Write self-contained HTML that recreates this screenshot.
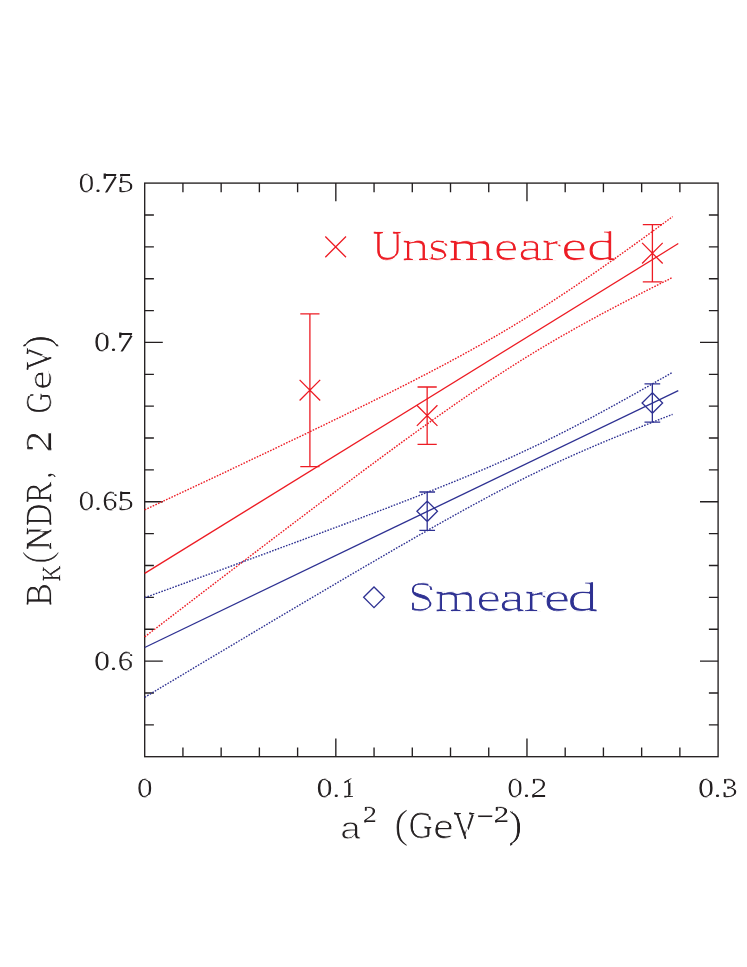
<!DOCTYPE html>
<html lang="en">
<head>
<meta charset="utf-8">
<title>B_K continuum extrapolation</title>
<style>
html,body{margin:0;padding:0;background:#ffffff;}
body{width:747px;height:967px;overflow:hidden;font-family:"Liberation Sans",sans-serif;}
svg{display:block;will-change:transform;}
text{white-space:pre;}
</style>
</head>
<body>
<svg width="747" height="967" viewBox="0 0 747 967" role="img" aria-label="B_K versus a squared: unsmeared and smeared data with linear fits">
<defs>
<clipPath id="c0"><text transform="translate(-1.30,0) scale(1.2212,1)" x="64.82" y="191.60" font-family="Liberation Serif" font-size="26.6">0</text></clipPath>
<clipPath id="c2"><text transform="translate(-1.30,0) scale(1.2857,1)" x="79.37" y="191.60" font-family="Liberation Serif" font-size="26.6">7</text></clipPath>
<clipPath id="c3"><text transform="translate(-1.30,0) scale(1.2950,1)" x="91.03" y="191.60" font-family="Liberation Serif" font-size="26.6">5</text></clipPath>
<clipPath id="c4"><text transform="translate(-1.30,0) scale(1.2151,1)" x="78.07" y="350.93" font-family="Liberation Serif" font-size="26.6">0</text></clipPath>
<clipPath id="c6"><text transform="translate(-1.30,0) scale(1.3115,1)" x="89.63" y="350.93" font-family="Liberation Serif" font-size="26.6">7</text></clipPath>
<clipPath id="c7"><text transform="translate(-1.30,0) scale(1.2212,1)" x="64.82" y="510.27" font-family="Liberation Serif" font-size="26.6">0</text></clipPath>
<clipPath id="c9"><text transform="translate(-1.30,0) scale(1.1556,1)" x="89.06" y="510.27" font-family="Liberation Serif" font-size="26.6">6</text></clipPath>
<clipPath id="c10"><text transform="translate(-1.30,0) scale(1.2950,1)" x="91.03" y="510.27" font-family="Liberation Serif" font-size="26.6">5</text></clipPath>
<clipPath id="c11"><text transform="translate(-1.30,0) scale(1.2151,1)" x="78.07" y="669.60" font-family="Liberation Serif" font-size="26.6">0</text></clipPath>
<clipPath id="c13"><text transform="translate(-1.30,0) scale(1.1672,1)" x="101.51" y="669.60" font-family="Liberation Serif" font-size="26.6">6</text></clipPath>
<clipPath id="c14"><text transform="translate(-1.30,0) scale(1.1960,1)" x="115.10" y="797.40" font-family="Liberation Serif" font-size="26.6">0</text></clipPath>
<clipPath id="c15"><text transform="translate(-1.30,0) scale(1.2228,1)" x="259.51" y="797.40" font-family="Liberation Serif" font-size="26.6">0</text></clipPath>
<clipPath id="c17"><text transform="translate(-1.30,0) scale(1.1021,1)" x="310.47" y="797.40" font-family="Liberation Serif" font-size="26.6">1</text></clipPath>
<clipPath id="c18"><text transform="translate(-1.30,0) scale(1.2017,1)" x="422.64" y="797.40" font-family="Liberation Serif" font-size="26.6">0</text></clipPath>
<clipPath id="c20"><text transform="translate(-1.30,0) scale(1.3441,1)" x="395.23" y="797.40" font-family="Liberation Serif" font-size="26.6">2</text></clipPath>
<clipPath id="c21"><text transform="translate(-1.30,0) scale(1.2151,1)" x="575.16" y="797.40" font-family="Liberation Serif" font-size="26.6">0</text></clipPath>
<clipPath id="c23"><text transform="translate(-1.30,0) scale(1.2325,1)" x="586.17" y="797.40" font-family="Liberation Serif" font-size="26.6">3</text></clipPath>
<clipPath id="c24"><text transform="translate(-1.20,0) scale(0.9975,1)" x="374.16" y="260.30" font-family="Liberation Serif" font-size="42.0">U</text></clipPath>
<clipPath id="c25"><text transform="translate(-1.70,0) scale(1.4598,1)" x="276.08" y="260.30" font-family="Liberation Serif" font-size="39.5">n</text></clipPath>
<clipPath id="c26"><text transform="translate(-2.00,0) scale(1.4355,1)" x="298.92" y="260.30" font-family="Liberation Serif" font-size="39.5">s</text></clipPath>
<clipPath id="c27"><text transform="translate(-1.70,0) scale(1.5143,1)" x="297.06" y="260.30" font-family="Liberation Serif" font-size="39.5">m</text></clipPath>
<clipPath id="c28"><text transform="translate(-1.70,0) scale(1.4929,1)" x="331.39" y="260.30" font-family="Liberation Serif" font-size="39.5">e</text></clipPath>
<clipPath id="c29"><text transform="translate(-1.70,0) scale(1.4744,1)" x="352.11" y="260.30" font-family="Liberation Serif" font-size="39.5">a</text></clipPath>
<clipPath id="c30"><text transform="translate(-1.70,0) scale(1.3551,1)" x="400.70" y="260.30" font-family="Liberation Serif" font-size="39.5">r</text></clipPath>
<clipPath id="c31"><text transform="translate(-1.70,0) scale(1.5454,1)" x="363.87" y="260.30" font-family="Liberation Serif" font-size="39.5">e</text></clipPath>
<clipPath id="c32"><text transform="translate(1.70,0) scale(1.5353,1)" x="380.71" y="260.30" font-family="Liberation Serif" font-size="39.5">d</text></clipPath>
<clipPath id="c33"><text transform="translate(-2.25,0) scale(1.1957,1)" x="341.97" y="610.70" font-family="Liberation Serif" font-size="42.5">S</text></clipPath>
<clipPath id="c34"><text transform="translate(-1.70,0) scale(1.3692,1)" x="318.49" y="610.70" font-family="Liberation Serif" font-size="39.8">m</text></clipPath>
<clipPath id="c35"><text transform="translate(-1.70,0) scale(1.4814,1)" x="322.15" y="610.70" font-family="Liberation Serif" font-size="39.8">e</text></clipPath>
<clipPath id="c36"><text transform="translate(-1.70,0) scale(1.5075,1)" x="331.90" y="610.70" font-family="Liberation Serif" font-size="39.8">a</text></clipPath>
<clipPath id="c37"><text transform="translate(-1.70,0) scale(1.5165,1)" x="346.62" y="610.70" font-family="Liberation Serif" font-size="39.8">r</text></clipPath>
<clipPath id="c38"><text transform="translate(-1.70,0) scale(1.5657,1)" x="347.99" y="610.70" font-family="Liberation Serif" font-size="39.8">e</text></clipPath>
<clipPath id="c39"><text transform="translate(1.70,0) scale(1.5878,1)" x="355.97" y="610.70" font-family="Liberation Serif" font-size="39.8">d</text></clipPath>
<clipPath id="c41"><text transform="translate(-0.80,0) scale(1.2196,1)" x="298.11" y="822.10" font-family="Liberation Serif" font-size="23.6">2</text></clipPath>
<clipPath id="c42"><text transform="translate(-1.15,0) scale(0.9288,1)" x="425.95" y="837.40" font-family="Liberation Serif" font-size="38.4">(</text></clipPath>
<clipPath id="c43"><text transform="translate(-1.15,0) scale(0.9008,1)" x="454.60" y="838.40" font-family="Liberation Serif" font-size="38.0">G</text></clipPath>
<clipPath id="c44"><text transform="translate(-1.55,0) scale(1.3746,1)" x="315.68" y="838.40" font-family="Liberation Serif" font-size="35.5">e</text></clipPath>
<clipPath id="c45"><text transform="translate(-1.15,0) scale(0.8205,1)" x="553.42" y="838.40" font-family="Liberation Serif" font-size="38.0">V</text></clipPath>
<clipPath id="c47"><text transform="translate(-0.80,0) scale(1.3510,1)" x="365.91" y="822.10" font-family="Liberation Serif" font-size="23.6">2</text></clipPath>
<clipPath id="c48"><text transform="translate(-1.15,0) scale(1.1290,1)" x="451.15" y="837.40" font-family="Liberation Serif" font-size="38.4">)</text></clipPath>
<clipPath id="c49"><text transform="translate(50.8,604.3) rotate(-90) translate(-1.05,0) scale(0.9698,1)" x="-0.88" y="0.00" font-family="Liberation Serif" font-size="36.2">B</text></clipPath>
<clipPath id="c50"><text transform="translate(50.8,604.3) rotate(-90) translate(-0.60,0) scale(0.9153,1)" x="25.43" y="9.30" font-family="Liberation Serif" font-size="24.6">K</text></clipPath>
<clipPath id="c51"><text transform="translate(50.8,604.3) rotate(-90) translate(-1.05,0) scale(0.8544,1)" x="48.52" y="-0.90" font-family="Liberation Serif" font-size="38.6">(</text></clipPath>
<clipPath id="c52"><text transform="translate(50.8,604.3) rotate(-90) translate(-1.05,0) scale(0.8981,1)" x="61.05" y="0.00" font-family="Liberation Serif" font-size="36.2">N</text></clipPath>
<clipPath id="c53"><text transform="translate(50.8,604.3) rotate(-90) translate(-1.05,0) scale(0.8625,1)" x="91.70" y="0.00" font-family="Liberation Serif" font-size="36.2">D</text></clipPath>
<clipPath id="c54"><text transform="translate(50.8,604.3) rotate(-90) translate(-1.05,0) scale(0.9062,1)" x="112.35" y="0.00" font-family="Liberation Serif" font-size="36.2">R</text></clipPath>
<clipPath id="c56"><text transform="translate(50.8,604.3) rotate(-90) translate(-1.05,0) scale(1.2163,1)" x="125.47" y="0.00" font-family="Liberation Serif" font-size="36.8">2</text></clipPath>
<clipPath id="c57"><text transform="translate(50.8,604.3) rotate(-90) translate(-1.05,0) scale(0.8431,1)" x="226.91" y="0.00" font-family="Liberation Serif" font-size="36.2">G</text></clipPath>
<clipPath id="c58"><text transform="translate(50.8,604.3) rotate(-90) translate(-1.50,0) scale(1.3252,1)" x="162.39" y="0.00" font-family="Liberation Serif" font-size="34.6">e</text></clipPath>
<clipPath id="c59"><text transform="translate(50.8,604.3) rotate(-90) translate(-1.05,0) scale(0.8955,1)" x="262.03" y="0.00" font-family="Liberation Serif" font-size="36.2">V</text></clipPath>
<clipPath id="c60"><text transform="translate(50.8,604.3) rotate(-90) translate(-1.05,0) scale(1.0362,1)" x="248.09" y="-0.90" font-family="Liberation Serif" font-size="38.6">)</text></clipPath>
<mask id="lt" maskUnits="userSpaceOnUse" x="0" y="0" width="747" height="967">
<rect x="0" y="0" width="747" height="967" fill="#ffffff"/>
<g fill="#000000">
<text transform="translate(2.81,0) scale(1.2212,1)" x="64.82" y="191.60" font-family="Liberation Serif" font-size="26.6" stroke="#000000" stroke-width="2.00">0</text>
<text transform="translate(2.84,0) scale(1.2857,1)" x="79.37" y="191.60" font-family="Liberation Serif" font-size="26.6" stroke="#000000" stroke-width="2.00">7</text>
<text transform="translate(2.85,0) scale(1.2950,1)" x="91.03" y="191.60" font-family="Liberation Serif" font-size="26.6" stroke="#000000" stroke-width="2.00">5</text>
<text transform="translate(2.81,0) scale(1.2151,1)" x="78.07" y="350.93" font-family="Liberation Serif" font-size="26.6" stroke="#000000" stroke-width="2.00">0</text>
<text transform="translate(2.86,0) scale(1.3115,1)" x="89.63" y="350.93" font-family="Liberation Serif" font-size="26.6" stroke="#000000" stroke-width="2.00">7</text>
<text transform="translate(2.81,0) scale(1.2212,1)" x="64.82" y="510.27" font-family="Liberation Serif" font-size="26.6" stroke="#000000" stroke-width="2.00">0</text>
<text transform="translate(2.78,0) scale(1.1556,1)" x="89.06" y="510.27" font-family="Liberation Serif" font-size="26.6" stroke="#000000" stroke-width="2.00">6</text>
<text transform="translate(2.85,0) scale(1.2950,1)" x="91.03" y="510.27" font-family="Liberation Serif" font-size="26.6" stroke="#000000" stroke-width="2.00">5</text>
<text transform="translate(2.81,0) scale(1.2151,1)" x="78.07" y="669.60" font-family="Liberation Serif" font-size="26.6" stroke="#000000" stroke-width="2.00">0</text>
<text transform="translate(2.78,0) scale(1.1672,1)" x="101.51" y="669.60" font-family="Liberation Serif" font-size="26.6" stroke="#000000" stroke-width="2.00">6</text>
<text transform="translate(2.80,0) scale(1.1960,1)" x="115.10" y="797.40" font-family="Liberation Serif" font-size="26.6" stroke="#000000" stroke-width="2.00">0</text>
<text transform="translate(2.81,0) scale(1.2228,1)" x="259.51" y="797.40" font-family="Liberation Serif" font-size="26.6" stroke="#000000" stroke-width="2.00">0</text>
<text transform="translate(2.75,0) scale(1.1021,1)" x="310.47" y="797.40" font-family="Liberation Serif" font-size="26.6" stroke="#000000" stroke-width="2.00">1</text>
<text transform="translate(2.80,0) scale(1.2017,1)" x="422.64" y="797.40" font-family="Liberation Serif" font-size="26.6" stroke="#000000" stroke-width="2.00">0</text>
<text transform="translate(2.87,0) scale(1.3441,1)" x="395.23" y="797.40" font-family="Liberation Serif" font-size="26.6" stroke="#000000" stroke-width="2.00">2</text>
<text transform="translate(2.81,0) scale(1.2151,1)" x="575.16" y="797.40" font-family="Liberation Serif" font-size="26.6" stroke="#000000" stroke-width="2.00">0</text>
<text transform="translate(2.82,0) scale(1.2325,1)" x="586.17" y="797.40" font-family="Liberation Serif" font-size="26.6" stroke="#000000" stroke-width="2.00">3</text>
<text transform="translate(2.60,0) scale(0.9975,1)" x="374.16" y="260.30" font-family="Liberation Serif" font-size="42.0" stroke="#000000" stroke-width="1.70">U</text>
<text transform="translate(2.83,0) scale(1.4598,1)" x="276.08" y="260.30" font-family="Liberation Serif" font-size="39.5" stroke="#000000" stroke-width="1.70">n</text>
<text transform="translate(2.72,0) scale(1.4355,1)" x="298.92" y="260.30" font-family="Liberation Serif" font-size="39.5" stroke="#000000" stroke-width="1.70">s</text>
<text transform="translate(2.86,0) scale(1.5143,1)" x="297.06" y="260.30" font-family="Liberation Serif" font-size="39.5" stroke="#000000" stroke-width="1.70">m</text>
<text transform="translate(2.85,0) scale(1.4929,1)" x="331.39" y="260.30" font-family="Liberation Serif" font-size="39.5" stroke="#000000" stroke-width="1.70">e</text>
<text transform="translate(2.84,0) scale(1.4744,1)" x="352.11" y="260.30" font-family="Liberation Serif" font-size="39.5" stroke="#000000" stroke-width="1.70">a</text>
<text transform="translate(2.78,0) scale(1.3551,1)" x="400.70" y="260.30" font-family="Liberation Serif" font-size="39.5" stroke="#000000" stroke-width="1.70">r</text>
<text transform="translate(2.87,0) scale(1.5454,1)" x="363.87" y="260.30" font-family="Liberation Serif" font-size="39.5" stroke="#000000" stroke-width="1.70">e</text>
<text transform="translate(-2.87,0) scale(1.5353,1)" x="380.71" y="260.30" font-family="Liberation Serif" font-size="39.5" stroke="#000000" stroke-width="1.70">d</text>
<text transform="translate(2.60,0) scale(1.1957,1)" x="341.97" y="610.70" font-family="Liberation Serif" font-size="42.5" stroke="#000000" stroke-width="1.70">S</text>
<text transform="translate(2.78,0) scale(1.3692,1)" x="318.49" y="610.70" font-family="Liberation Serif" font-size="39.8" stroke="#000000" stroke-width="1.70">m</text>
<text transform="translate(2.84,0) scale(1.4814,1)" x="322.15" y="610.70" font-family="Liberation Serif" font-size="39.8" stroke="#000000" stroke-width="1.70">e</text>
<text transform="translate(2.85,0) scale(1.5075,1)" x="331.90" y="610.70" font-family="Liberation Serif" font-size="39.8" stroke="#000000" stroke-width="1.70">a</text>
<text transform="translate(2.86,0) scale(1.5165,1)" x="346.62" y="610.70" font-family="Liberation Serif" font-size="39.8" stroke="#000000" stroke-width="1.70">r</text>
<text transform="translate(2.88,0) scale(1.5657,1)" x="347.99" y="610.70" font-family="Liberation Serif" font-size="39.8" stroke="#000000" stroke-width="1.70">e</text>
<text transform="translate(-2.89,0) scale(1.5878,1)" x="355.97" y="610.70" font-family="Liberation Serif" font-size="39.8" stroke="#000000" stroke-width="1.70">d</text>
<text transform="translate(2.51,0) scale(1.2196,1)" x="298.11" y="822.10" font-family="Liberation Serif" font-size="23.6" stroke="#000000" stroke-width="1.85">2</text>
<text transform="translate(2.56,0) scale(0.9288,1)" x="425.95" y="837.40" font-family="Liberation Serif" font-size="38.4" stroke="#000000" stroke-width="1.80">(</text>
<text transform="translate(2.55,0) scale(0.9008,1)" x="454.60" y="838.40" font-family="Liberation Serif" font-size="38.0" stroke="#000000" stroke-width="1.80">G</text>
<text transform="translate(2.79,0) scale(1.3746,1)" x="315.68" y="838.40" font-family="Liberation Serif" font-size="35.5" stroke="#000000" stroke-width="1.80">e</text>
<text transform="translate(2.51,0) scale(0.8205,1)" x="553.42" y="838.40" font-family="Liberation Serif" font-size="38.0" stroke="#000000" stroke-width="1.80">V</text>
<text transform="translate(2.58,0) scale(1.3510,1)" x="365.91" y="822.10" font-family="Liberation Serif" font-size="23.6" stroke="#000000" stroke-width="1.85">2</text>
<text transform="translate(2.66,0) scale(1.1290,1)" x="451.15" y="837.40" font-family="Liberation Serif" font-size="38.4" stroke="#000000" stroke-width="1.80">)</text>
<text transform="translate(50.8,604.3) rotate(-90) translate(2.48,0) scale(0.9698,1)" x="-0.88" y="0.00" font-family="Liberation Serif" font-size="36.2" stroke="#000000" stroke-width="1.65">B</text>
<text transform="translate(50.8,604.3) rotate(-90) translate(2.16,0) scale(0.9153,1)" x="25.43" y="9.30" font-family="Liberation Serif" font-size="24.6" stroke="#000000" stroke-width="1.50">K</text>
<text transform="translate(50.8,604.3) rotate(-90) translate(2.43,0) scale(0.8544,1)" x="48.52" y="-0.90" font-family="Liberation Serif" font-size="38.6" stroke="#000000" stroke-width="1.65">(</text>
<text transform="translate(50.8,604.3) rotate(-90) translate(2.45,0) scale(0.8981,1)" x="61.05" y="0.00" font-family="Liberation Serif" font-size="36.2" stroke="#000000" stroke-width="1.65">N</text>
<text transform="translate(50.8,604.3) rotate(-90) translate(2.43,0) scale(0.8625,1)" x="91.70" y="0.00" font-family="Liberation Serif" font-size="36.2" stroke="#000000" stroke-width="1.65">D</text>
<text transform="translate(50.8,604.3) rotate(-90) translate(2.45,0) scale(0.9062,1)" x="112.35" y="0.00" font-family="Liberation Serif" font-size="36.2" stroke="#000000" stroke-width="1.65">R</text>
<text transform="translate(50.8,604.3) rotate(-90) translate(2.61,0) scale(1.2163,1)" x="125.47" y="0.00" font-family="Liberation Serif" font-size="36.8" stroke="#000000" stroke-width="1.65">2</text>
<text transform="translate(50.8,604.3) rotate(-90) translate(2.42,0) scale(0.8431,1)" x="226.91" y="0.00" font-family="Liberation Serif" font-size="36.2" stroke="#000000" stroke-width="1.65">G</text>
<text transform="translate(50.8,604.3) rotate(-90) translate(2.66,0) scale(1.3252,1)" x="162.39" y="0.00" font-family="Liberation Serif" font-size="34.6" stroke="#000000" stroke-width="1.65">e</text>
<text transform="translate(50.8,604.3) rotate(-90) translate(2.45,0) scale(0.8955,1)" x="262.03" y="0.00" font-family="Liberation Serif" font-size="36.2" stroke="#000000" stroke-width="1.65">V</text>
<text transform="translate(50.8,604.3) rotate(-90) translate(2.52,0) scale(1.0362,1)" x="248.09" y="-0.90" font-family="Liberation Serif" font-size="38.6" stroke="#000000" stroke-width="1.65">)</text>
</g>
<g fill="#ffffff">
<g clip-path="url(#c0)"><text transform="translate(-2.60,0) scale(1.2212,1)" x="64.82" y="191.60" font-family="Liberation Serif" font-size="26.6" stroke="#ffffff" stroke-width="1.00">0</text></g>
<g clip-path="url(#c2)"><text transform="translate(-2.60,0) scale(1.2857,1)" x="79.37" y="191.60" font-family="Liberation Serif" font-size="26.6" stroke="#ffffff" stroke-width="1.00">7</text></g>
<g clip-path="url(#c3)"><text transform="translate(-2.60,0) scale(1.2950,1)" x="91.03" y="191.60" font-family="Liberation Serif" font-size="26.6" stroke="#ffffff" stroke-width="1.00">5</text></g>
<g clip-path="url(#c4)"><text transform="translate(-2.60,0) scale(1.2151,1)" x="78.07" y="350.93" font-family="Liberation Serif" font-size="26.6" stroke="#ffffff" stroke-width="1.00">0</text></g>
<g clip-path="url(#c6)"><text transform="translate(-2.60,0) scale(1.3115,1)" x="89.63" y="350.93" font-family="Liberation Serif" font-size="26.6" stroke="#ffffff" stroke-width="1.00">7</text></g>
<g clip-path="url(#c7)"><text transform="translate(-2.60,0) scale(1.2212,1)" x="64.82" y="510.27" font-family="Liberation Serif" font-size="26.6" stroke="#ffffff" stroke-width="1.00">0</text></g>
<g clip-path="url(#c9)"><text transform="translate(-2.60,0) scale(1.1556,1)" x="89.06" y="510.27" font-family="Liberation Serif" font-size="26.6" stroke="#ffffff" stroke-width="1.00">6</text></g>
<g clip-path="url(#c10)"><text transform="translate(-2.60,0) scale(1.2950,1)" x="91.03" y="510.27" font-family="Liberation Serif" font-size="26.6" stroke="#ffffff" stroke-width="1.00">5</text></g>
<g clip-path="url(#c11)"><text transform="translate(-2.60,0) scale(1.2151,1)" x="78.07" y="669.60" font-family="Liberation Serif" font-size="26.6" stroke="#ffffff" stroke-width="1.00">0</text></g>
<g clip-path="url(#c13)"><text transform="translate(-2.60,0) scale(1.1672,1)" x="101.51" y="669.60" font-family="Liberation Serif" font-size="26.6" stroke="#ffffff" stroke-width="1.00">6</text></g>
<g clip-path="url(#c14)"><text transform="translate(-2.60,0) scale(1.1960,1)" x="115.10" y="797.40" font-family="Liberation Serif" font-size="26.6" stroke="#ffffff" stroke-width="1.00">0</text></g>
<g clip-path="url(#c15)"><text transform="translate(-2.60,0) scale(1.2228,1)" x="259.51" y="797.40" font-family="Liberation Serif" font-size="26.6" stroke="#ffffff" stroke-width="1.00">0</text></g>
<g clip-path="url(#c17)"><text transform="translate(-2.60,0) scale(1.1021,1)" x="310.47" y="797.40" font-family="Liberation Serif" font-size="26.6" stroke="#ffffff" stroke-width="1.00">1</text></g>
<g clip-path="url(#c18)"><text transform="translate(-2.60,0) scale(1.2017,1)" x="422.64" y="797.40" font-family="Liberation Serif" font-size="26.6" stroke="#ffffff" stroke-width="1.00">0</text></g>
<g clip-path="url(#c20)"><text transform="translate(-2.60,0) scale(1.3441,1)" x="395.23" y="797.40" font-family="Liberation Serif" font-size="26.6" stroke="#ffffff" stroke-width="1.00">2</text></g>
<g clip-path="url(#c21)"><text transform="translate(-2.60,0) scale(1.2151,1)" x="575.16" y="797.40" font-family="Liberation Serif" font-size="26.6" stroke="#ffffff" stroke-width="1.00">0</text></g>
<g clip-path="url(#c23)"><text transform="translate(-2.60,0) scale(1.2325,1)" x="586.17" y="797.40" font-family="Liberation Serif" font-size="26.6" stroke="#ffffff" stroke-width="1.00">3</text></g>
<g clip-path="url(#c24)"><text transform="translate(-2.40,0) scale(0.9975,1)" x="374.16" y="260.30" font-family="Liberation Serif" font-size="42.0" stroke="#ffffff" stroke-width="0.70">U</text></g>
<g clip-path="url(#c25)"><text transform="translate(-3.40,0) scale(1.4598,1)" x="276.08" y="260.30" font-family="Liberation Serif" font-size="39.5" stroke="#ffffff" stroke-width="0.70">n</text></g>
<g clip-path="url(#c26)"><text transform="translate(-4.00,0) scale(1.4355,1)" x="298.92" y="260.30" font-family="Liberation Serif" font-size="39.5" stroke="#ffffff" stroke-width="0.70">s</text></g>
<g clip-path="url(#c27)"><text transform="translate(-3.40,0) scale(1.5143,1)" x="297.06" y="260.30" font-family="Liberation Serif" font-size="39.5" stroke="#ffffff" stroke-width="0.70">m</text></g>
<g clip-path="url(#c28)"><text transform="translate(-3.40,0) scale(1.4929,1)" x="331.39" y="260.30" font-family="Liberation Serif" font-size="39.5" stroke="#ffffff" stroke-width="0.70">e</text></g>
<g clip-path="url(#c29)"><text transform="translate(-3.40,0) scale(1.4744,1)" x="352.11" y="260.30" font-family="Liberation Serif" font-size="39.5" stroke="#ffffff" stroke-width="0.70">a</text></g>
<g clip-path="url(#c30)"><text transform="translate(-3.40,0) scale(1.3551,1)" x="400.70" y="260.30" font-family="Liberation Serif" font-size="39.5" stroke="#ffffff" stroke-width="0.70">r</text></g>
<g clip-path="url(#c31)"><text transform="translate(-3.40,0) scale(1.5454,1)" x="363.87" y="260.30" font-family="Liberation Serif" font-size="39.5" stroke="#ffffff" stroke-width="0.70">e</text></g>
<g clip-path="url(#c32)"><text transform="translate(3.40,0) scale(1.5353,1)" x="380.71" y="260.30" font-family="Liberation Serif" font-size="39.5" stroke="#ffffff" stroke-width="0.70">d</text></g>
<g clip-path="url(#c33)"><text transform="translate(-4.50,0) scale(1.1957,1)" x="341.97" y="610.70" font-family="Liberation Serif" font-size="42.5" stroke="#ffffff" stroke-width="0.70">S</text></g>
<g clip-path="url(#c34)"><text transform="translate(-3.40,0) scale(1.3692,1)" x="318.49" y="610.70" font-family="Liberation Serif" font-size="39.8" stroke="#ffffff" stroke-width="0.70">m</text></g>
<g clip-path="url(#c35)"><text transform="translate(-3.40,0) scale(1.4814,1)" x="322.15" y="610.70" font-family="Liberation Serif" font-size="39.8" stroke="#ffffff" stroke-width="0.70">e</text></g>
<g clip-path="url(#c36)"><text transform="translate(-3.40,0) scale(1.5075,1)" x="331.90" y="610.70" font-family="Liberation Serif" font-size="39.8" stroke="#ffffff" stroke-width="0.70">a</text></g>
<g clip-path="url(#c37)"><text transform="translate(-3.40,0) scale(1.5165,1)" x="346.62" y="610.70" font-family="Liberation Serif" font-size="39.8" stroke="#ffffff" stroke-width="0.70">r</text></g>
<g clip-path="url(#c38)"><text transform="translate(-3.40,0) scale(1.5657,1)" x="347.99" y="610.70" font-family="Liberation Serif" font-size="39.8" stroke="#ffffff" stroke-width="0.70">e</text></g>
<g clip-path="url(#c39)"><text transform="translate(3.40,0) scale(1.5878,1)" x="355.97" y="610.70" font-family="Liberation Serif" font-size="39.8" stroke="#ffffff" stroke-width="0.70">d</text></g>
<g clip-path="url(#c41)"><text transform="translate(-1.60,0) scale(1.2196,1)" x="298.11" y="822.10" font-family="Liberation Serif" font-size="23.6" stroke="#ffffff" stroke-width="0.85">2</text></g>
<g clip-path="url(#c42)"><text transform="translate(-2.30,0) scale(0.9288,1)" x="425.95" y="837.40" font-family="Liberation Serif" font-size="38.4" stroke="#ffffff" stroke-width="0.80">(</text></g>
<g clip-path="url(#c43)"><text transform="translate(-2.30,0) scale(0.9008,1)" x="454.60" y="838.40" font-family="Liberation Serif" font-size="38.0" stroke="#ffffff" stroke-width="0.80">G</text></g>
<g clip-path="url(#c44)"><text transform="translate(-3.10,0) scale(1.3746,1)" x="315.68" y="838.40" font-family="Liberation Serif" font-size="35.5" stroke="#ffffff" stroke-width="0.80">e</text></g>
<g clip-path="url(#c45)"><text transform="translate(-2.30,0) scale(0.8205,1)" x="553.42" y="838.40" font-family="Liberation Serif" font-size="38.0" stroke="#ffffff" stroke-width="0.80">V</text></g>
<g clip-path="url(#c47)"><text transform="translate(-1.60,0) scale(1.3510,1)" x="365.91" y="822.10" font-family="Liberation Serif" font-size="23.6" stroke="#ffffff" stroke-width="0.85">2</text></g>
<g clip-path="url(#c48)"><text transform="translate(-2.30,0) scale(1.1290,1)" x="451.15" y="837.40" font-family="Liberation Serif" font-size="38.4" stroke="#ffffff" stroke-width="0.80">)</text></g>
<g clip-path="url(#c49)"><text transform="translate(50.8,604.3) rotate(-90) translate(-2.10,0) scale(0.9698,1)" x="-0.88" y="0.00" font-family="Liberation Serif" font-size="36.2" stroke="#ffffff" stroke-width="0.65">B</text></g>
<g clip-path="url(#c50)"><text transform="translate(50.8,604.3) rotate(-90) translate(-1.20,0) scale(0.9153,1)" x="25.43" y="9.30" font-family="Liberation Serif" font-size="24.6" stroke="#ffffff" stroke-width="0.50">K</text></g>
<g clip-path="url(#c51)"><text transform="translate(50.8,604.3) rotate(-90) translate(-2.10,0) scale(0.8544,1)" x="48.52" y="-0.90" font-family="Liberation Serif" font-size="38.6" stroke="#ffffff" stroke-width="0.65">(</text></g>
<g clip-path="url(#c52)"><text transform="translate(50.8,604.3) rotate(-90) translate(-2.10,0) scale(0.8981,1)" x="61.05" y="0.00" font-family="Liberation Serif" font-size="36.2" stroke="#ffffff" stroke-width="0.65">N</text></g>
<g clip-path="url(#c53)"><text transform="translate(50.8,604.3) rotate(-90) translate(-2.10,0) scale(0.8625,1)" x="91.70" y="0.00" font-family="Liberation Serif" font-size="36.2" stroke="#ffffff" stroke-width="0.65">D</text></g>
<g clip-path="url(#c54)"><text transform="translate(50.8,604.3) rotate(-90) translate(-2.10,0) scale(0.9062,1)" x="112.35" y="0.00" font-family="Liberation Serif" font-size="36.2" stroke="#ffffff" stroke-width="0.65">R</text></g>
<g clip-path="url(#c56)"><text transform="translate(50.8,604.3) rotate(-90) translate(-2.10,0) scale(1.2163,1)" x="125.47" y="0.00" font-family="Liberation Serif" font-size="36.8" stroke="#ffffff" stroke-width="0.65">2</text></g>
<g clip-path="url(#c57)"><text transform="translate(50.8,604.3) rotate(-90) translate(-2.10,0) scale(0.8431,1)" x="226.91" y="0.00" font-family="Liberation Serif" font-size="36.2" stroke="#ffffff" stroke-width="0.65">G</text></g>
<g clip-path="url(#c58)"><text transform="translate(50.8,604.3) rotate(-90) translate(-3.00,0) scale(1.3252,1)" x="162.39" y="0.00" font-family="Liberation Serif" font-size="34.6" stroke="#ffffff" stroke-width="0.65">e</text></g>
<g clip-path="url(#c59)"><text transform="translate(50.8,604.3) rotate(-90) translate(-2.10,0) scale(0.8955,1)" x="262.03" y="0.00" font-family="Liberation Serif" font-size="36.2" stroke="#ffffff" stroke-width="0.65">V</text></g>
<g clip-path="url(#c60)"><text transform="translate(50.8,604.3) rotate(-90) translate(-2.10,0) scale(1.0362,1)" x="248.09" y="-0.90" font-family="Liberation Serif" font-size="38.6" stroke="#ffffff" stroke-width="0.65">)</text></g>
</g>
</mask>
</defs>
<rect x="0" y="0" width="747" height="967" fill="#ffffff"/>
<g mask="url(#lt)">
<text transform="scale(1.2212,1)" x="64.82" y="191.60" font-family="Liberation Serif" font-size="26.6" fill="#231f20" stroke="#231f20" stroke-width="1.0">0</text>
<text transform="scale(1.3299,1)" x="70.99" y="191.60" font-family="Liberation Serif" font-size="21.0" fill="#231f20">.</text>
<text transform="scale(1.2857,1)" x="79.37" y="191.60" font-family="Liberation Serif" font-size="26.6" fill="#231f20" stroke="#231f20" stroke-width="1.0">7</text>
<text transform="scale(1.2950,1)" x="91.03" y="191.60" font-family="Liberation Serif" font-size="26.6" fill="#231f20" stroke="#231f20" stroke-width="1.0">5</text>
<text transform="scale(1.2151,1)" x="78.07" y="350.93" font-family="Liberation Serif" font-size="26.6" fill="#231f20" stroke="#231f20" stroke-width="1.0">0</text>
<text transform="scale(1.3299,1)" x="82.78" y="350.93" font-family="Liberation Serif" font-size="21.0" fill="#231f20">.</text>
<text transform="scale(1.3115,1)" x="89.63" y="350.93" font-family="Liberation Serif" font-size="26.6" fill="#231f20" stroke="#231f20" stroke-width="1.0">7</text>
<text transform="scale(1.2212,1)" x="64.82" y="510.27" font-family="Liberation Serif" font-size="26.6" fill="#231f20" stroke="#231f20" stroke-width="1.0">0</text>
<text transform="scale(1.3299,1)" x="70.99" y="510.27" font-family="Liberation Serif" font-size="21.0" fill="#231f20">.</text>
<text transform="scale(1.1556,1)" x="89.06" y="510.27" font-family="Liberation Serif" font-size="26.6" fill="#231f20" stroke="#231f20" stroke-width="1.0">6</text>
<text transform="scale(1.2950,1)" x="91.03" y="510.27" font-family="Liberation Serif" font-size="26.6" fill="#231f20" stroke="#231f20" stroke-width="1.0">5</text>
<text transform="scale(1.2151,1)" x="78.07" y="669.60" font-family="Liberation Serif" font-size="26.6" fill="#231f20" stroke="#231f20" stroke-width="1.0">0</text>
<text transform="scale(1.3299,1)" x="82.78" y="669.60" font-family="Liberation Serif" font-size="21.0" fill="#231f20">.</text>
<text transform="scale(1.1672,1)" x="101.51" y="669.60" font-family="Liberation Serif" font-size="26.6" fill="#231f20" stroke="#231f20" stroke-width="1.0">6</text>
<text transform="scale(1.1960,1)" x="115.10" y="797.40" font-family="Liberation Serif" font-size="26.6" fill="#231f20" stroke="#231f20" stroke-width="1.0">0</text>
<text transform="scale(1.2228,1)" x="259.51" y="797.40" font-family="Liberation Serif" font-size="26.6" fill="#231f20" stroke="#231f20" stroke-width="1.0">0</text>
<text transform="scale(1.3299,1)" x="250.25" y="797.40" font-family="Liberation Serif" font-size="21.0" fill="#231f20">.</text>
<text transform="scale(1.1021,1)" x="310.47" y="797.40" font-family="Liberation Serif" font-size="26.6" fill="#231f20" stroke="#231f20" stroke-width="1.0">1</text>
<text transform="scale(1.2017,1)" x="422.64" y="797.40" font-family="Liberation Serif" font-size="26.6" fill="#231f20" stroke="#231f20" stroke-width="1.0">0</text>
<text transform="scale(1.3299,1)" x="393.35" y="797.40" font-family="Liberation Serif" font-size="21.0" fill="#231f20">.</text>
<text transform="scale(1.3441,1)" x="395.23" y="797.40" font-family="Liberation Serif" font-size="26.6" fill="#231f20" stroke="#231f20" stroke-width="1.0">2</text>
<text transform="scale(1.2151,1)" x="575.16" y="797.40" font-family="Liberation Serif" font-size="26.6" fill="#231f20" stroke="#231f20" stroke-width="1.0">0</text>
<text transform="scale(1.3299,1)" x="536.96" y="797.40" font-family="Liberation Serif" font-size="21.0" fill="#231f20">.</text>
<text transform="scale(1.2325,1)" x="586.17" y="797.40" font-family="Liberation Serif" font-size="26.6" fill="#231f20" stroke="#231f20" stroke-width="1.0">3</text>
<text transform="scale(0.9975,1)" x="374.16" y="260.30" font-family="Liberation Serif" font-size="42.0" fill="#ed1c24" stroke="#ed1c24" stroke-width="0.7">U</text>
<text transform="scale(1.4598,1)" x="276.08" y="260.30" font-family="Liberation Serif" font-size="39.5" fill="#ed1c24" stroke="#ed1c24" stroke-width="0.7">n</text>
<text transform="scale(1.4355,1)" x="298.92" y="260.30" font-family="Liberation Serif" font-size="39.5" fill="#ed1c24" stroke="#ed1c24" stroke-width="0.7">s</text>
<text transform="scale(1.5143,1)" x="297.06" y="260.30" font-family="Liberation Serif" font-size="39.5" fill="#ed1c24" stroke="#ed1c24" stroke-width="0.7">m</text>
<text transform="scale(1.4929,1)" x="331.39" y="260.30" font-family="Liberation Serif" font-size="39.5" fill="#ed1c24" stroke="#ed1c24" stroke-width="0.7">e</text>
<text transform="scale(1.4744,1)" x="352.11" y="260.30" font-family="Liberation Serif" font-size="39.5" fill="#ed1c24" stroke="#ed1c24" stroke-width="0.7">a</text>
<text transform="scale(1.3551,1)" x="400.70" y="260.30" font-family="Liberation Serif" font-size="39.5" fill="#ed1c24" stroke="#ed1c24" stroke-width="0.7">r</text>
<text transform="scale(1.5454,1)" x="363.87" y="260.30" font-family="Liberation Serif" font-size="39.5" fill="#ed1c24" stroke="#ed1c24" stroke-width="0.7">e</text>
<text transform="scale(1.5353,1)" x="380.71" y="260.30" font-family="Liberation Serif" font-size="39.5" fill="#ed1c24" stroke="#ed1c24" stroke-width="0.7">d</text>
<text transform="scale(1.1957,1)" x="341.97" y="610.70" font-family="Liberation Serif" font-size="42.5" fill="#2e3192" stroke="#2e3192" stroke-width="0.7">S</text>
<text transform="scale(1.3692,1)" x="318.49" y="610.70" font-family="Liberation Serif" font-size="39.8" fill="#2e3192" stroke="#2e3192" stroke-width="0.7">m</text>
<text transform="scale(1.4814,1)" x="322.15" y="610.70" font-family="Liberation Serif" font-size="39.8" fill="#2e3192" stroke="#2e3192" stroke-width="0.7">e</text>
<text transform="scale(1.5075,1)" x="331.90" y="610.70" font-family="Liberation Serif" font-size="39.8" fill="#2e3192" stroke="#2e3192" stroke-width="0.7">a</text>
<text transform="scale(1.5165,1)" x="346.62" y="610.70" font-family="Liberation Serif" font-size="39.8" fill="#2e3192" stroke="#2e3192" stroke-width="0.7">r</text>
<text transform="scale(1.5657,1)" x="347.99" y="610.70" font-family="Liberation Serif" font-size="39.8" fill="#2e3192" stroke="#2e3192" stroke-width="0.7">e</text>
<text transform="scale(1.5878,1)" x="355.97" y="610.70" font-family="Liberation Serif" font-size="39.8" fill="#2e3192" stroke="#2e3192" stroke-width="0.7">d</text>
<text transform="scale(1.1610,1)" x="293.08" y="839.10" font-family="Liberation Sans" font-size="31.6" fill="#231f20" stroke="#ffffff" stroke-width="0.85">a</text>
<text transform="scale(1.2196,1)" x="298.11" y="822.10" font-family="Liberation Serif" font-size="23.6" fill="#231f20" stroke="#231f20" stroke-width="0.85">2</text>
<text transform="scale(0.9288,1)" x="425.95" y="837.40" font-family="Liberation Serif" font-size="38.4" fill="#231f20" stroke="#231f20" stroke-width="0.8">(</text>
<text transform="scale(0.9008,1)" x="454.60" y="838.40" font-family="Liberation Serif" font-size="38.0" fill="#231f20" stroke="#231f20" stroke-width="0.8">G</text>
<text transform="scale(1.3746,1)" x="315.68" y="838.40" font-family="Liberation Serif" font-size="35.5" fill="#231f20" stroke="#231f20" stroke-width="0.8">e</text>
<text transform="scale(0.8205,1)" x="553.42" y="838.40" font-family="Liberation Serif" font-size="38.0" fill="#231f20" stroke="#231f20" stroke-width="0.8">V</text>
<text transform="scale(1.1382,1)" x="418.61" y="824.70" font-family="Liberation Sans" font-size="26.0" fill="#231f20" stroke="#ffffff" stroke-width="0.3">−</text>
<text transform="scale(1.3510,1)" x="365.91" y="822.10" font-family="Liberation Serif" font-size="23.6" fill="#231f20" stroke="#231f20" stroke-width="0.85">2</text>
<text transform="scale(1.1290,1)" x="451.15" y="837.40" font-family="Liberation Serif" font-size="38.4" fill="#231f20" stroke="#231f20" stroke-width="0.8">)</text>
<text transform="translate(50.8,604.3) rotate(-90) scale(0.9698,1)" x="-0.88" y="0.00" font-family="Liberation Serif" font-size="36.2" fill="#231f20" stroke="#231f20" stroke-width="0.65">B</text>
<text transform="translate(50.8,604.3) rotate(-90) scale(0.9153,1)" x="25.43" y="9.30" font-family="Liberation Serif" font-size="24.6" fill="#231f20" stroke="#231f20" stroke-width="0.5">K</text>
<text transform="translate(50.8,604.3) rotate(-90) scale(0.8544,1)" x="48.52" y="-0.90" font-family="Liberation Serif" font-size="38.6" fill="#231f20" stroke="#231f20" stroke-width="0.65">(</text>
<text transform="translate(50.8,604.3) rotate(-90) scale(0.8981,1)" x="61.05" y="0.00" font-family="Liberation Serif" font-size="36.2" fill="#231f20" stroke="#231f20" stroke-width="0.65">N</text>
<text transform="translate(50.8,604.3) rotate(-90) scale(0.8625,1)" x="91.70" y="0.00" font-family="Liberation Serif" font-size="36.2" fill="#231f20" stroke="#231f20" stroke-width="0.65">D</text>
<text transform="translate(50.8,604.3) rotate(-90) scale(0.9062,1)" x="112.35" y="0.00" font-family="Liberation Serif" font-size="36.2" fill="#231f20" stroke="#231f20" stroke-width="0.65">R</text>
<text transform="translate(50.8,604.3) rotate(-90) scale(0.7162,1)" x="176.86" y="-0.30" font-family="Liberation Serif" font-size="30.0" fill="#231f20">,</text>
<text transform="translate(50.8,604.3) rotate(-90) scale(1.2163,1)" x="125.47" y="0.00" font-family="Liberation Serif" font-size="36.8" fill="#231f20" stroke="#231f20" stroke-width="0.65">2</text>
<text transform="translate(50.8,604.3) rotate(-90) scale(0.8431,1)" x="226.91" y="0.00" font-family="Liberation Serif" font-size="36.2" fill="#231f20" stroke="#231f20" stroke-width="0.65">G</text>
<text transform="translate(50.8,604.3) rotate(-90) scale(1.3252,1)" x="162.39" y="0.00" font-family="Liberation Serif" font-size="34.6" fill="#231f20" stroke="#231f20" stroke-width="0.65">e</text>
<text transform="translate(50.8,604.3) rotate(-90) scale(0.8955,1)" x="262.03" y="0.00" font-family="Liberation Serif" font-size="36.2" fill="#231f20" stroke="#231f20" stroke-width="0.65">V</text>
<text transform="translate(50.8,604.3) rotate(-90) scale(1.0362,1)" x="248.09" y="-0.90" font-family="Liberation Serif" font-size="38.6" fill="#231f20" stroke="#231f20" stroke-width="0.65">)</text>
</g>
<g stroke="#231f20" stroke-width="1.35" fill="none">
<rect x="144.7" y="183.1" width="573.40" height="573.60"/>
<path d="M182.93 183.1v9.2M182.93 756.7v-9.2M221.15 183.1v9.2M221.15 756.7v-9.2M259.38 183.1v9.2M259.38 756.7v-9.2M297.61 183.1v9.2M297.61 756.7v-9.2M335.83 183.1v18.1M335.83 756.7v-18.1M374.06 183.1v9.2M374.06 756.7v-9.2M412.29 183.1v9.2M412.29 756.7v-9.2M450.51 183.1v9.2M450.51 756.7v-9.2M488.74 183.1v9.2M488.74 756.7v-9.2M526.97 183.1v18.1M526.97 756.7v-18.1M565.19 183.1v9.2M565.19 756.7v-9.2M603.42 183.1v9.2M603.42 756.7v-9.2M641.65 183.1v9.2M641.65 756.7v-9.2M679.87 183.1v9.2M679.87 756.7v-9.2M144.7 724.83h9.2M718.1 724.83h-9.2M144.7 692.97h9.2M718.1 692.97h-9.2M144.7 661.10h18.1M718.1 661.10h-18.1M144.7 629.23h9.2M718.1 629.23h-9.2M144.7 597.37h9.2M718.1 597.37h-9.2M144.7 565.50h9.2M718.1 565.50h-9.2M144.7 533.63h9.2M718.1 533.63h-9.2M144.7 501.77h18.1M718.1 501.77h-18.1M144.7 469.90h9.2M718.1 469.90h-9.2M144.7 438.03h9.2M718.1 438.03h-9.2M144.7 406.17h9.2M718.1 406.17h-9.2M144.7 374.30h9.2M718.1 374.30h-9.2M144.7 342.43h18.1M718.1 342.43h-18.1M144.7 310.57h9.2M718.1 310.57h-9.2M144.7 278.70h9.2M718.1 278.70h-9.2M144.7 246.83h9.2M718.1 246.83h-9.2M144.7 214.97h9.2M718.1 214.97h-9.2"/>
</g>
<g stroke="#ed1c24" fill="none" stroke-width="1.3">
<path d="M144.70 573.40L678.30 243.53"/>
<path d="M144.70 509.90 L150.57 507.16 L156.43 504.41 L162.30 501.66 L168.16 498.91 L174.03 496.16 L179.89 493.41 L185.76 490.66 L191.62 487.90 L197.49 485.14 L203.36 482.38 L209.22 479.62 L215.09 476.86 L220.95 474.09 L226.82 471.32 L232.68 468.55 L238.55 465.78 L244.41 463.00 L250.28 460.22 L256.15 457.44 L262.01 454.65 L267.88 451.86 L273.74 449.07 L279.61 446.27 L285.47 443.47 L291.34 440.67 L297.20 437.86 L303.07 435.04 L308.94 432.23 L314.80 429.40 L320.67 426.57 L326.53 423.73 L332.40 420.89 L338.26 418.04 L344.13 415.18 L349.99 412.32 L355.86 409.45 L361.73 406.56 L367.59 403.67 L373.46 400.77 L379.32 397.86 L385.19 394.93 L391.05 391.99 L396.92 389.04 L402.78 386.08 L408.65 383.09 L414.52 380.10 L420.38 377.08 L426.25 374.04 L432.11 370.99 L437.98 367.91 L443.84 364.80 L449.71 361.68 L455.57 358.52 L461.44 355.34 L467.31 352.12 L473.17 348.88 L479.04 345.60 L484.90 342.28 L490.77 338.93 L496.63 335.54 L502.50 332.11 L508.36 328.63 L514.23 325.12 L520.10 321.56 L525.96 317.96 L531.83 314.31 L537.69 310.62 L543.56 306.89 L549.42 303.12 L555.29 299.30 L561.15 295.45 L567.02 291.55 L572.89 287.62 L578.75 283.65 L584.62 279.65 L590.48 275.62 L596.35 271.55 L602.21 267.46 L608.08 263.33 L613.94 259.19 L619.81 255.02 L625.68 250.82 L631.54 246.61 L637.41 242.38 L643.27 238.13 L649.14 233.86 L655.00 229.57 L660.87 225.27 L666.73 220.96 L672.60 216.64" stroke-dasharray="1.6 1.35" stroke-width="1.4"/>
<path d="M144.70 636.90 L150.57 632.39 L156.43 627.89 L162.30 623.38 L168.16 618.88 L174.03 614.38 L179.89 609.88 L185.76 605.38 L191.62 600.88 L197.49 596.39 L203.36 591.90 L209.22 587.41 L215.09 582.92 L220.95 578.43 L226.82 573.95 L232.68 569.47 L238.55 564.99 L244.41 560.51 L250.28 556.04 L256.15 551.57 L262.01 547.11 L267.88 542.64 L273.74 538.18 L279.61 533.73 L285.47 529.28 L291.34 524.83 L297.20 520.39 L303.07 515.95 L308.94 511.51 L314.80 507.09 L320.67 502.66 L326.53 498.25 L332.40 493.84 L338.26 489.44 L344.13 485.04 L349.99 480.65 L355.86 476.28 L361.73 471.91 L367.59 467.55 L373.46 463.20 L379.32 458.86 L385.19 454.53 L391.05 450.22 L396.92 445.91 L402.78 441.63 L408.65 437.36 L414.52 433.10 L420.38 428.87 L426.25 424.65 L432.11 420.46 L437.98 416.28 L443.84 412.13 L449.71 408.01 L455.57 403.91 L461.44 399.84 L467.31 395.81 L473.17 391.80 L479.04 387.83 L484.90 383.89 L490.77 379.99 L496.63 376.13 L502.50 372.31 L508.36 368.53 L514.23 364.80 L520.10 361.10 L525.96 357.45 L531.83 353.84 L537.69 350.28 L543.56 346.76 L549.42 343.28 L555.29 339.85 L561.15 336.45 L567.02 333.09 L572.89 329.77 L578.75 326.49 L584.62 323.24 L590.48 320.02 L596.35 316.83 L602.21 313.67 L608.08 310.54 L613.94 307.44 L619.81 304.36 L625.68 301.30 L631.54 298.26 L637.41 295.24 L643.27 292.24 L649.14 289.26 L655.00 286.29 L660.87 283.34 L666.73 280.40 L672.60 277.47" stroke-dasharray="1.6 1.35" stroke-width="1.4"/>
</g>
<g stroke="#2e3192" fill="none" stroke-width="1.3">
<path d="M144.70 647.50L678.30 390.57"/>
<path d="M144.70 597.70 L150.57 595.56 L156.43 593.42 L162.30 591.28 L168.16 589.14 L174.03 587.00 L179.89 584.86 L185.76 582.72 L191.62 580.58 L197.49 578.43 L203.36 576.28 L209.22 574.14 L215.09 571.99 L220.95 569.84 L226.82 567.69 L232.68 565.54 L238.55 563.38 L244.41 561.23 L250.28 559.07 L256.15 556.91 L262.01 554.75 L267.88 552.59 L273.74 550.42 L279.61 548.26 L285.47 546.09 L291.34 543.92 L297.20 541.74 L303.07 539.57 L308.94 537.39 L314.80 535.20 L320.67 533.02 L326.53 530.83 L332.40 528.64 L338.26 526.44 L344.13 524.24 L349.99 522.03 L355.86 519.82 L361.73 517.61 L367.59 515.39 L373.46 513.16 L379.32 510.93 L385.19 508.69 L391.05 506.44 L396.92 504.18 L402.78 501.92 L408.65 499.64 L414.52 497.36 L420.38 495.06 L426.25 492.76 L432.11 490.44 L437.98 488.10 L443.84 485.75 L449.71 483.39 L455.57 481.00 L461.44 478.60 L467.31 476.18 L473.17 473.73 L479.04 471.26 L484.90 468.77 L490.77 466.24 L496.63 463.69 L502.50 461.11 L508.36 458.49 L514.23 455.84 L520.10 453.16 L525.96 450.44 L531.83 447.68 L537.69 444.89 L543.56 442.05 L549.42 439.18 L555.29 436.27 L561.15 433.33 L567.02 430.34 L572.89 427.33 L578.75 424.28 L584.62 421.20 L590.48 418.09 L596.35 414.95 L602.21 411.78 L608.08 408.59 L613.94 405.38 L619.81 402.14 L625.68 398.89 L631.54 395.61 L637.41 392.32 L643.27 389.02 L649.14 385.70 L655.00 382.36 L660.87 379.01 L666.73 375.65 L672.60 372.29" stroke-dasharray="1.6 1.35" stroke-width="1.4"/>
<path d="M144.70 697.30 L150.57 693.79 L156.43 690.28 L162.30 686.77 L168.16 683.26 L174.03 679.75 L179.89 676.25 L185.76 672.74 L191.62 669.24 L197.49 665.73 L203.36 662.23 L209.22 658.73 L215.09 655.23 L220.95 651.73 L226.82 648.23 L232.68 644.74 L238.55 641.24 L244.41 637.75 L250.28 634.26 L256.15 630.77 L262.01 627.28 L267.88 623.79 L273.74 620.31 L279.61 616.83 L285.47 613.35 L291.34 609.87 L297.20 606.40 L303.07 602.92 L308.94 599.45 L314.80 595.99 L320.67 592.53 L326.53 589.07 L332.40 585.61 L338.26 582.16 L344.13 578.71 L349.99 575.27 L355.86 571.83 L361.73 568.40 L367.59 564.97 L373.46 561.55 L379.32 558.13 L385.19 554.73 L391.05 551.32 L396.92 547.93 L402.78 544.55 L408.65 541.17 L414.52 537.81 L420.38 534.46 L426.25 531.12 L432.11 527.79 L437.98 524.47 L443.84 521.17 L449.71 517.89 L455.57 514.63 L461.44 511.38 L467.31 508.15 L473.17 504.95 L479.04 501.77 L484.90 498.62 L490.77 495.49 L496.63 492.40 L502.50 489.33 L508.36 486.30 L514.23 483.30 L520.10 480.34 L525.96 477.41 L531.83 474.52 L537.69 471.66 L543.56 468.85 L549.42 466.07 L555.29 463.33 L561.15 460.63 L567.02 457.96 L572.89 455.33 L578.75 452.73 L584.62 450.16 L590.48 447.62 L596.35 445.11 L602.21 442.63 L608.08 440.17 L613.94 437.74 L619.81 435.33 L625.68 432.93 L631.54 430.56 L637.41 428.20 L643.27 425.86 L649.14 423.53 L655.00 421.22 L660.87 418.92 L666.73 416.63 L672.60 414.35" stroke-dasharray="1.6 1.35" stroke-width="1.4"/>
</g>
<path stroke="#ed1c24" fill="none" stroke-width="1.3" d="M309.90 313.80V466.70M300.30 313.80h19.2M300.30 466.70h19.2M299.60 379.90L320.20 400.50M299.60 400.50L320.20 379.90M427.15 387.00V444.30M417.55 387.00h19.2M417.55 444.30h19.2M416.85 405.25L437.45 425.85M416.85 425.85L437.45 405.25M652.40 224.60V281.90M642.80 224.60h19.2M642.80 281.90h19.2M642.10 242.90L662.70 263.50M642.10 263.50L662.70 242.90M325.30 236.55L346.00 257.25M325.30 257.25L346.00 236.55"/>
<path stroke="#2e3192" fill="none" stroke-width="1.3" d="M427.20 492.00V530.45M419.35 492.00h15.7M419.35 530.45h15.7M416.95 511.30L427.20 501.05L437.45 511.30L427.20 521.55ZM652.35 383.80V422.10M644.50 383.80h15.7M644.50 422.10h15.7M642.10 403.00L652.35 392.75L662.60 403.00L652.35 413.25ZM363.65 597.30L374.00 586.95L384.35 597.30L374.00 607.65Z"/>
</svg>
</body>
</html>
